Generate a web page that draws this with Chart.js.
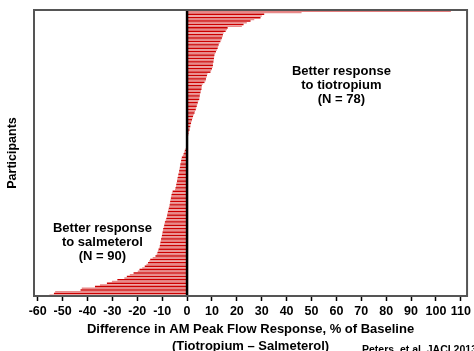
<!DOCTYPE html>
<html>
<head>
<meta charset="utf-8">
<script src="https://cdn.jsdelivr.net/npm/chart.js@4"></script>
<style>
  html, body { margin: 0; padding: 0; background: #fff; }
  #wrap { width: 474px; height: 351px; }
</style>
</head>
<body>
<div id="wrap"><canvas id="peakFlow" width="474" height="351"></canvas></div>
<script>
// 差值 (Tiotropium - Salmeterol), 从上到下排序
const tiotropiumBetter = [
  106, 46, 31, 30, 29.5, 27, 25.5, 24, 22.7, 22,
  16.3, 16, 15.5, 14.7, 14.4, 14.3, 14, 13.8, 13.4, 13,
  12.7, 12.5, 12.3, 12, 11.6, 11.3, 11, 10.9, 10.8, 10.7,
  10.6, 10.4, 10.4, 10.3, 10, 9.7, 9.4, 8.2, 8, 7.8,
  7.6, 7.5, 7.0, 6.3, 5.9, 5.9, 5.8, 5.6, 5.4, 5.2,
  5.1, 5.0, 4.9, 4.5, 4.3, 4.1, 3.9, 3.7, 3.5, 3.2,
  3.0, 2.7, 2.4, 2.2, 2.0, 1.8, 1.6, 1.4, 1.3, 1.1,
  1.0, 0.8, 0.6, 0.5, 0.3, 0.2, 0.1, 0.05
];
const salmeterolBetter = [
  -0.1, -0.2, -0.4, -0.6, -0.9, -1.2, -1.4, -1.7, -2.1, -2.3,
  -2.4, -2.5, -2.7, -2.8, -2.9, -3.1, -3.2, -3.3, -3.5, -3.6,
  -3.8, -3.95, -4.05, -4.2, -4.35, -4.45, -4.65, -4.85, -5.8, -6.1,
  -6.25, -6.4, -6.5, -6.65, -6.8, -6.9, -7.0, -7.2, -7.35, -7.6,
  -7.7, -7.9, -8.0, -8.1, -8.35, -8.6, -8.9, -9.05, -9.2, -9.35,
  -9.6, -9.7, -9.85, -10.0, -10.1, -10.25, -10.45, -10.55, -10.7, -10.85,
  -10.95, -11.1, -11.45, -11.7, -11.9, -12.2, -12.7, -13.8, -14.8, -15.2,
  -15.7, -16.3, -17.0, -18.0, -19.1, -19.8, -21.5, -23.0, -24.2, -25.2,
  -28, -30.2, -32.2, -35, -37, -42.3, -42.8, -53, -53.5, -55.3
];
const differences = tiotropiumBetter.concat(salmeterolBetter);
const participants = differences.map((v, i) => i + 1);

const xMin = -61.5;
const xMax = 112.5;

// 注释文字
const annotations = [
  { x: 62, y: 44, lines: ['Better response', 'to tiotropium', '(N = 78)'] },
  { x: -34, y: 136, lines: ['Better response', 'to salmeterol', '(N = 90)'] }
];
const sourceNote = 'Peters, et al. JACI 2013';

const barColors = differences.map((v, i) => i % 2 === 0 ? '#cc0000' : '#e88a8a');

const extras = {
  id: 'extras',
  afterDatasetsDraw(chart) {
    const { ctx, chartArea, scales } = chart;
    ctx.save();
    // 零线
    const zx = scales.x.getPixelForValue(0);
    ctx.strokeStyle = '#000';
    ctx.lineWidth = 2.5;
    ctx.beginPath();
    ctx.moveTo(zx, chartArea.top);
    ctx.lineTo(zx, chartArea.bottom);
    ctx.stroke();
    // 边框
    ctx.strokeStyle = '#555';
    ctx.lineWidth = 2;
    ctx.strokeRect(chartArea.left, chartArea.top, chartArea.right - chartArea.left, chartArea.bottom - chartArea.top);
    // 注释
    ctx.fillStyle = '#000';
    ctx.font = 'bold 13px "Liberation Sans", Arial, sans-serif';
    ctx.textAlign = 'center';
    ctx.textBaseline = 'middle';
    annotations.forEach(a => {
      const px = scales.x.getPixelForValue(a.x);
      const py = scales.y.getPixelForValue(a.y);
      a.lines.forEach((t, k) => ctx.fillText(t, px, py + (k - 1) * 14));
    });
    ctx.font = 'bold 10.5px "Liberation Sans", Arial, sans-serif';
    ctx.textAlign = 'left';
    ctx.textBaseline = 'top';
    ctx.fillText(sourceNote, 362, 345);
    ctx.restore();
  }
};

new Chart(document.getElementById('peakFlow').getContext('2d'), {
  type: 'bar',
  data: {
    labels: participants,
    datasets: [{
      data: differences,
      backgroundColor: barColors,
      borderWidth: 0,
      barPercentage: 0.9,
      categoryPercentage: 1
    }]
  },
  options: {
    indexAxis: 'y',
    responsive: false,
    animation: false,
    layout: { padding: { top: 10, right: 6, left: 0, bottom: 0 } },
    plugins: {
      legend: { display: false },
      tooltip: { enabled: false }
    },
    scales: {
      x: {
        min: xMin,
        max: xMax,
        afterBuildTicks(scale) {
          const t = [];
          for (let v = -60; v <= 110; v += 10) t.push({ value: v });
          scale.ticks = t;
        },
        afterFit(scale) { scale.height = 55; },
        grid: { drawOnChartArea: false, tickLength: 5, tickColor: '#000', tickWidth: 1.5 },
        border: { display: false },
        ticks: {
          padding: 3,
          color: '#000',
          autoSkip: false,
          maxRotation: 0,
          minRotation: 0,
          font: { family: '"Liberation Sans", Arial, sans-serif', size: 12.5, weight: 'bold' }
        },
        title: {
          display: true,
          text: ['Difference in AM Peak Flow Response, % of Baseline', '(Tiotropium \u2013 Salmeterol)'],
          color: '#000',
          padding: { top: 0, bottom: -3.5 },
          font: { family: '"Liberation Sans", Arial, sans-serif', size: 13, weight: 'bold', lineHeight: '17px' }
        }
      },
      y: {
        afterFit(scale) { scale.width = 34; },
        grid: { display: false },
        border: { display: false },
        ticks: { display: false },
        title: {
          display: true,
          text: 'Participants',
          color: '#000',
          padding: { top: 5, bottom: 0 },
          font: { family: '"Liberation Sans", Arial, sans-serif', size: 12.5, weight: 'bold' }
        }
      }
    }
  },
  plugins: [extras]
});
</script>
</body>
</html>
